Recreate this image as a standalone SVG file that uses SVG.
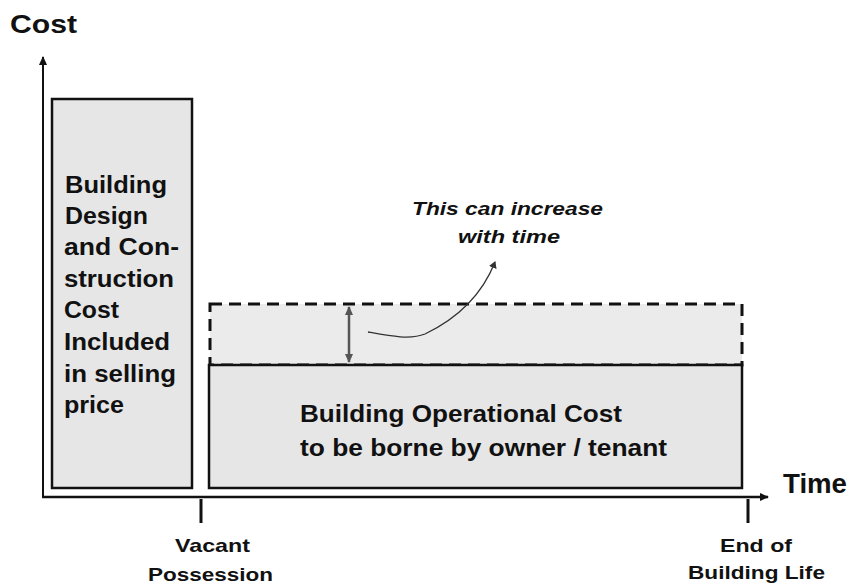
<svg xmlns="http://www.w3.org/2000/svg" width="851" height="588" viewBox="0 0 851 588">
<defs>
<marker id="ah" markerWidth="10" markerHeight="10" refX="8" refY="5" orient="auto" markerUnits="userSpaceOnUse"><path d="M0,1 L9,5 L0,9 Z" fill="#111"/></marker>
<marker id="ahg" markerWidth="10" markerHeight="10" refX="8" refY="5" orient="auto-start-reverse" markerUnits="userSpaceOnUse"><path d="M0,1 L9,5 L0,9 Z" fill="#555"/></marker>
<marker id="ahs" markerWidth="8" markerHeight="8" refX="6" refY="4" orient="auto" markerUnits="userSpaceOnUse"><path d="M0,0 L7,4 L0,8 Z" fill="#333"/></marker>
</defs>
<style>
text{font-family:"Liberation Sans",Arial,sans-serif;font-weight:bold;fill:#111}
.box{fill:#e6e6e6;stroke:#111;stroke-width:2.5}
.lbl{font-size:23px}
.ax{font-size:19px}
.note{font-size:18px;font-style:italic}
</style>
<rect width="851" height="588" fill="#fff"/>
<text x="10" y="33" font-size="26" textLength="67" lengthAdjust="spacingAndGlyphs">Cost</text>
<text x="783" y="493" font-size="28" textLength="64" lengthAdjust="spacingAndGlyphs">Time</text>
<g id="connectors" fill="none">
<line x1="43" y1="498" x2="43" y2="57" stroke="#111" stroke-width="2" marker-end="url(#ah)"/>
<line x1="42" y1="497" x2="768" y2="497" stroke="#111" stroke-width="2.5" marker-end="url(#ah)"/>
<line x1="201" y1="499" x2="201" y2="523" stroke="#111" stroke-width="3"/>
<line x1="748" y1="499" x2="748" y2="523" stroke="#111" stroke-width="3"/>
</g>
<g id="design-cost">
<rect class="box" x="52" y="99" width="140" height="389"/>
<text class="lbl" x="65" y="193" textLength="102" lengthAdjust="spacingAndGlyphs">Building</text>
<text class="lbl" x="65" y="224" textLength="83" lengthAdjust="spacingAndGlyphs">Design</text>
<text class="lbl" x="64" y="255" textLength="115" lengthAdjust="spacingAndGlyphs">and Con-</text>
<text class="lbl" x="64" y="287" textLength="110" lengthAdjust="spacingAndGlyphs">struction</text>
<text class="lbl" x="64" y="318" textLength="55" lengthAdjust="spacingAndGlyphs">Cost</text>
<text class="lbl" x="64" y="350" textLength="106" lengthAdjust="spacingAndGlyphs">Included</text>
<text class="lbl" x="64" y="382" textLength="112" lengthAdjust="spacingAndGlyphs">in selling</text>
<text class="lbl" x="64" y="413" textLength="60" lengthAdjust="spacingAndGlyphs">price</text>
</g>
<g id="increase-band">
<rect x="210" y="304" width="532" height="61" fill="#ebebeb" stroke="#111" stroke-width="3" stroke-dasharray="12,7"/>
</g>
<g id="operational-cost">
<rect class="box" x="209" y="365" width="533" height="123"/>
<text class="lbl" x="300" y="422" textLength="322" lengthAdjust="spacingAndGlyphs">Building Operational Cost</text>
<text class="lbl" x="300" y="456" textLength="367" lengthAdjust="spacingAndGlyphs">to be borne by owner / tenant</text>
</g>
<g id="increase-arrows" fill="none">
<line x1="349" y1="307" x2="349" y2="362" stroke="#555" stroke-width="2.5" marker-start="url(#ahg)" marker-end="url(#ahg)"/>
<path d="M368,332 C390,336 410,340 425,334 C450,322 480,300 495,262" stroke="#333" stroke-width="1.3" marker-end="url(#ahs)"/>
</g>
<g id="note">
<text class="note" x="412" y="215" textLength="191" lengthAdjust="spacingAndGlyphs">This can increase</text>
<text class="note" x="458" y="243" textLength="102" lengthAdjust="spacingAndGlyphs">with time</text>
</g>
<g id="vacant">
<text class="ax" x="175" y="552" textLength="75" lengthAdjust="spacingAndGlyphs">Vacant</text>
<text class="ax" x="148" y="581" textLength="125" lengthAdjust="spacingAndGlyphs">Possession</text>
</g>
<g id="end-life">
<text class="ax" x="720" y="552" textLength="72" lengthAdjust="spacingAndGlyphs">End of</text>
<text class="ax" x="688" y="579" textLength="137" lengthAdjust="spacingAndGlyphs">Building Life</text>
</g>
</svg>
